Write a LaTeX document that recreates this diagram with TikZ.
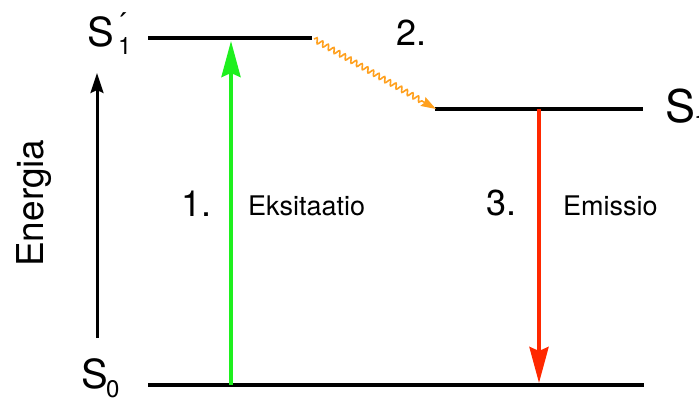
\documentclass[tikz,border=0pt]{standalone}
\usepackage{fontspec}
\setmainfont{TeX Gyre Heros}
\usetikzlibrary{arrows.meta,decorations.pathmorphing}
\definecolor{exgreen}{RGB}{30,240,30}
\definecolor{emred}{RGB}{255,40,0}
\definecolor{waveorange}{RGB}{255,160,30}
\begin{document}
\begin{tikzpicture}[x=1pt,y=-1pt,
  level/.style={line width=4pt},
  lbl/.style={inner sep=0pt,anchor=base west},
  big/.style={font=\fontsize{40}{40}\selectfont},
  sub/.style={font=\fontsize{24}{24}\selectfont},
  num/.style={font=\fontsize{36}{36}\selectfont},
  word/.style={font=\fontsize{27}{27}\selectfont}]
\useasboundingbox (0,0) rectangle (699,398);
% levels
\coordinate (s1pL) at (148,38);
\coordinate (s1pR) at (312,38);
\coordinate (s1L) at (435,109);
\coordinate (s1R) at (643,109);
\coordinate (s0L) at (148,385);
\coordinate (s0R) at (644,385);
\draw[level] (s1pL) -- (s1pR);
\draw[level] (s1L) -- (s1R);
\draw[level] (s0L) -- (s0R);
% labels of levels
\node[lbl,big] (S1p) at (87,47) {S};
\node[lbl,sub] (S1psub) at (118,55) {1};
\node[lbl,font=\fontsize{30}{30}\selectfont] (S1pprime) at (116,35) {´};
\node[lbl,big] (S0) at (81,388) {S};
\node[lbl,sub] (S0sub) at (106,397) {0};
\node[lbl,font=\fontsize{45}{45}\selectfont] (S1) at (665,123) {S};
\node[lbl,sub] (S1sub) at (694,131) {1};
% energy axis
\coordinate (eb) at (97,338);
\coordinate (et) at (97,73);
\draw[line width=3pt,-{Stealth[length=20pt,width=13pt,inset=3pt]}] (eb) -- (et);
\node[lbl,rotate=90,font=\fontsize{37}{37}\selectfont] (en) at (43,267) {Energia};
% excitation
\coordinate (g0) at (231,385);
\coordinate (g1) at (231,41);
\draw[exgreen,line width=4pt,-{Stealth[length=36pt,width=19pt,inset=4pt]}] (g0) -- (g1);
% emission
\coordinate (r0) at (539,109);
\coordinate (r1) at (539,383);
\draw[emred,line width=4pt,-{Stealth[length=36pt,width=19pt,inset=4pt]}] (r0) -- (r1);
% relaxation
\coordinate (w0) at (314,39);
\coordinate (w1) at (436,109);
\draw[waveorange,line width=1.6pt,-{Stealth[length=15pt,width=10pt,inset=2pt]},
  decorate,decoration={snake,amplitude=2.6pt,segment length=6.5pt,post length=14pt}] (w0) -- (w1);
% texts
\node[lbl,num] (n1) at (181,217) {1.};
\node[lbl,word] (t1) at (248,216) {Eksitaatio};
\node[lbl,num] (n2) at (396,46) {2.};
\node[lbl,num] (n3) at (486,216) {3.};
\node[lbl,word] (t3) at (563,216) {Emissio};
\end{tikzpicture}
\end{document}
